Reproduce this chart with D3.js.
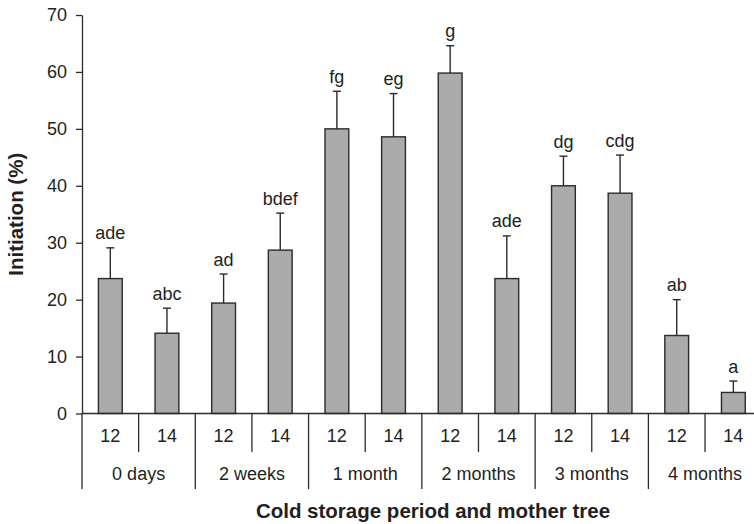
<!DOCTYPE html>
<html>
<head>
<meta charset="utf-8">
<script src="https://cdn.jsdelivr.net/npm/d3@7/dist/d3.min.js"></script>
<style>
  html, body { margin: 0; padding: 0; background: #fff; }
  svg { display: block; }
  text { font-family: "Liberation Sans", Arial, sans-serif; fill: #231f20; }
</style>
</head>
<body>
<script>
// Cold storage periods and the two mother trees sampled in each
const periods = ["0 days", "2 weeks", "1 month", "2 months", "3 months", "4 months"];
const trees = ["12", "14"];
// Mean initiation (%) per period × tree, in order
const means = [23.7, 14.1, 19.4, 28.7, 50.0, 48.6, 59.8, 23.7, 40.0, 38.7, 13.7, 3.7];
// Standard error shown above each bar
const errors = [5.4, 4.4, 5.1, 6.5, 6.6, 7.6, 4.8, 7.5, 5.2, 6.7, 6.3, 2.0];
// Significance letters
const letters = ["ade", "abc", "ad", "bdef", "fg", "eg", "g", "ade", "dg", "cdg", "ab", "a"];
const yTicks = [0, 10, 20, 30, 40, 50, 60, 70];

const W = 754, H = 524;
const mLeft = 82, mTop = 15, mBottom = 413.5;
const step = 56.64;
const mRight = mLeft + step * means.length;
const labelSize = 18, titleSize = 20.5;

const svg = d3.select("body").append("svg").attr("width", W).attr("height", H);

const cats = means.map((_, i) => i);
const x = d3.scaleBand().domain(cats).range([mLeft, mRight]).padding(0);
const y = d3.scaleLinear().domain([0, 70]).range([mBottom, mTop]);
const barW = x.bandwidth() * 0.42;
const ink = "#2b2b2b";

// Y axis
const yAxis = svg.append("g").attr("transform", `translate(${mLeft},0)`)
  .call(d3.axisLeft(y).tickValues(yTicks).tickSize(6).tickPadding(9).tickSizeOuter(0));
yAxis.select(".domain").attr("stroke", ink).attr("stroke-width", 1.3);
yAxis.selectAll(".tick line").attr("stroke", ink).attr("stroke-width", 1.3);
yAxis.selectAll(".tick text").attr("font-size", labelSize).attr("fill", "#231f20")
  .attr("font-family", "Liberation Sans, Arial, sans-serif");

// Bars
svg.append("g").selectAll("rect").data(cats).join("rect")
  .attr("x", i => x(i) + (x.bandwidth() - barW) / 2)
  .attr("y", i => y(means[i]))
  .attr("width", barW)
  .attr("height", i => y(0) - y(means[i]))
  .attr("fill", "#aaabaa")
  .attr("stroke", ink)
  .attr("stroke-width", 1.4);

// Error bars (upper only)
const eb = svg.append("g").attr("stroke", ink).attr("stroke-width", 1.4);
cats.forEach(i => {
  const cx = x(i) + x.bandwidth() / 2;
  eb.append("line").attr("x1", cx).attr("x2", cx)
    .attr("y1", y(means[i])).attr("y2", y(means[i] + errors[i]));
  eb.append("line").attr("x1", cx - 4).attr("x2", cx + 4)
    .attr("y1", y(means[i] + errors[i])).attr("y2", y(means[i] + errors[i]));
});

// Significance letters
svg.append("g").selectAll("text").data(cats).join("text")
  .attr("x", i => x(i) + x.bandwidth() / 2)
  .attr("y", i => y(means[i] + errors[i]) - 8.5)
  .attr("text-anchor", "middle")
  .attr("font-size", labelSize)
  .text(i => letters[i]);

// X axis baseline
svg.append("line").attr("x1", mLeft).attr("x2", mRight)
  .attr("y1", y(0)).attr("y2", y(0))
  .attr("stroke", ink).attr("stroke-width", 1.4);

// Category dividers: short between trees, long between periods
cats.concat([cats.length]).forEach(i => {
  const xp = i < cats.length ? x(i) : mRight;
  const major = i % 2 === 0;
  svg.append("line").attr("x1", xp).attr("x2", xp)
    .attr("y1", y(0)).attr("y2", major ? 489 : 452)
    .attr("stroke", ink).attr("stroke-width", 1.3);
});

// Tree labels
svg.append("g").selectAll("text").data(cats).join("text")
  .attr("x", i => x(i) + x.bandwidth() / 2)
  .attr("y", 441.5)
  .attr("text-anchor", "middle")
  .attr("font-size", labelSize)
  .text(i => trees[i % 2]);

// Period labels
svg.append("g").selectAll("text").data(periods).join("text")
  .attr("x", (d, g) => x(g * 2) + x.bandwidth())
  .attr("y", 479.5)
  .attr("text-anchor", "middle")
  .attr("font-size", labelSize)
  .text(d => d);

// Axis titles
svg.append("text")
  .attr("x", 433).attr("y", 518)
  .attr("text-anchor", "middle")
  .attr("font-size", titleSize).attr("font-weight", "bold")
  .text("Cold storage period and mother tree");

svg.append("text")
  .attr("transform", `translate(23,${(mTop + mBottom) / 2}) rotate(-90)`)
  .attr("text-anchor", "middle")
  .attr("font-size", titleSize).attr("font-weight", "bold")
  .text("Initiation (%)");
</script>
</body>
</html>
